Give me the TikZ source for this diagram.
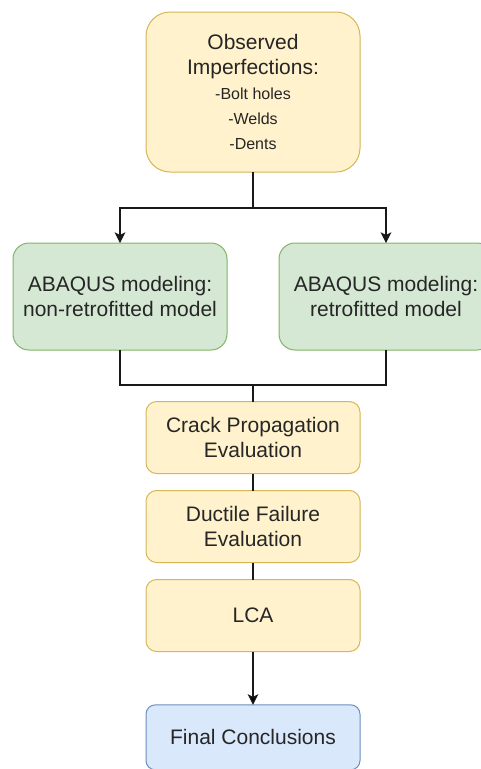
\documentclass[tikz,border=0pt]{standalone}
\usepackage{fontspec}
\setmainfont{Liberation Sans}
\usetikzlibrary{arrows.meta,positioning}
\definecolor{obsfill}{HTML}{FFF2CC}
\definecolor{obsdraw}{HTML}{D6B656}
\definecolor{modfill}{HTML}{D5E8D4}
\definecolor{moddraw}{HTML}{82B366}
\definecolor{endfill}{HTML}{DAE8FC}
\definecolor{enddraw}{HTML}{6C8EBF}
\tikzset{
    box/.style =    {rectangle,
                    fill=obsfill,
                    draw=obsdraw,
                    text=black!85,
                    line width=0.75pt,
                    inner sep=0pt,
                    outer sep=0pt,
                    align=center,
                    minimum width=160.5pt,
                    font=\fontsize{15.75}{18.9}\selectfont},
    obs/.style =    {box,
                    minimum height=120pt,
                    rounded corners=18pt},
    model/.style =  {box,
                    fill=modfill,
                    draw=moddraw,
                    minimum height=80.25pt,
                    rounded corners=12pt},
    stage/.style =  {box,
                    minimum height=54pt,
                    rounded corners=8pt},
    final/.style =  {box,
                    fill=endfill,
                    draw=enddraw,
                    minimum height=48.75pt,
                    rounded corners=7pt},
    link/.style =   {draw=black!90,
                    line width=0.9pt},
    >={Stealth[length=8pt,width=8pt,inset=2pt]}}
\newcommand{\smalltxt}[1]{{\fontsize{12}{18.9}\selectfont #1}}

\begin{document}
\begin{tikzpicture}[x=0.75pt,y=-0.75pt]
                \useasboundingbox (0,0) rectangle (481,769);
                \node[obs]      (obs)     at (253,92)     {Observed\\Imperfections:\\\smalltxt{-Bolt holes}\\\smalltxt{-Welds}\\\smalltxt{-Dents}};
                \node[model]    (nonret)  at (120,296.5)  {ABAQUS modeling:\\non-retrofitted model};
                \node[model]    (ret)     at (386,296.5)  {ABAQUS modeling:\\retrofitted model};
                \node[stage]    (crack)   at (253,437.5)  {Crack Propagation\\Evaluation};
                \node[stage]    (ductile) [below=12.75pt of crack]   {Ductile Failure\\Evaluation};
                \node[stage]    (lca)     [below=12.75pt of ductile] {LCA};
                \node[final]    (concl)   [below=40pt of lca]        {Final Conclusions};
                \coordinate     (split)   at (253,208);
                \coordinate     (join)    at (253,385);
                \draw [link]    (obs.south) -- (split);
                \draw [link,->] (split) -| (nonret.north);
                \draw [link,->] (split) -| (ret.north);
                \draw [link]    (nonret.south) |- (join);
                \draw [link]    (ret.south) |- (join);
                \path [link]    (join) edge [] (crack.north)
                                (crack) edge [] (ductile)
                                (ductile) edge [] (lca);
                \path [link,->] (lca) edge [] node [] {} (concl);
        \end{tikzpicture}
\end{document}
